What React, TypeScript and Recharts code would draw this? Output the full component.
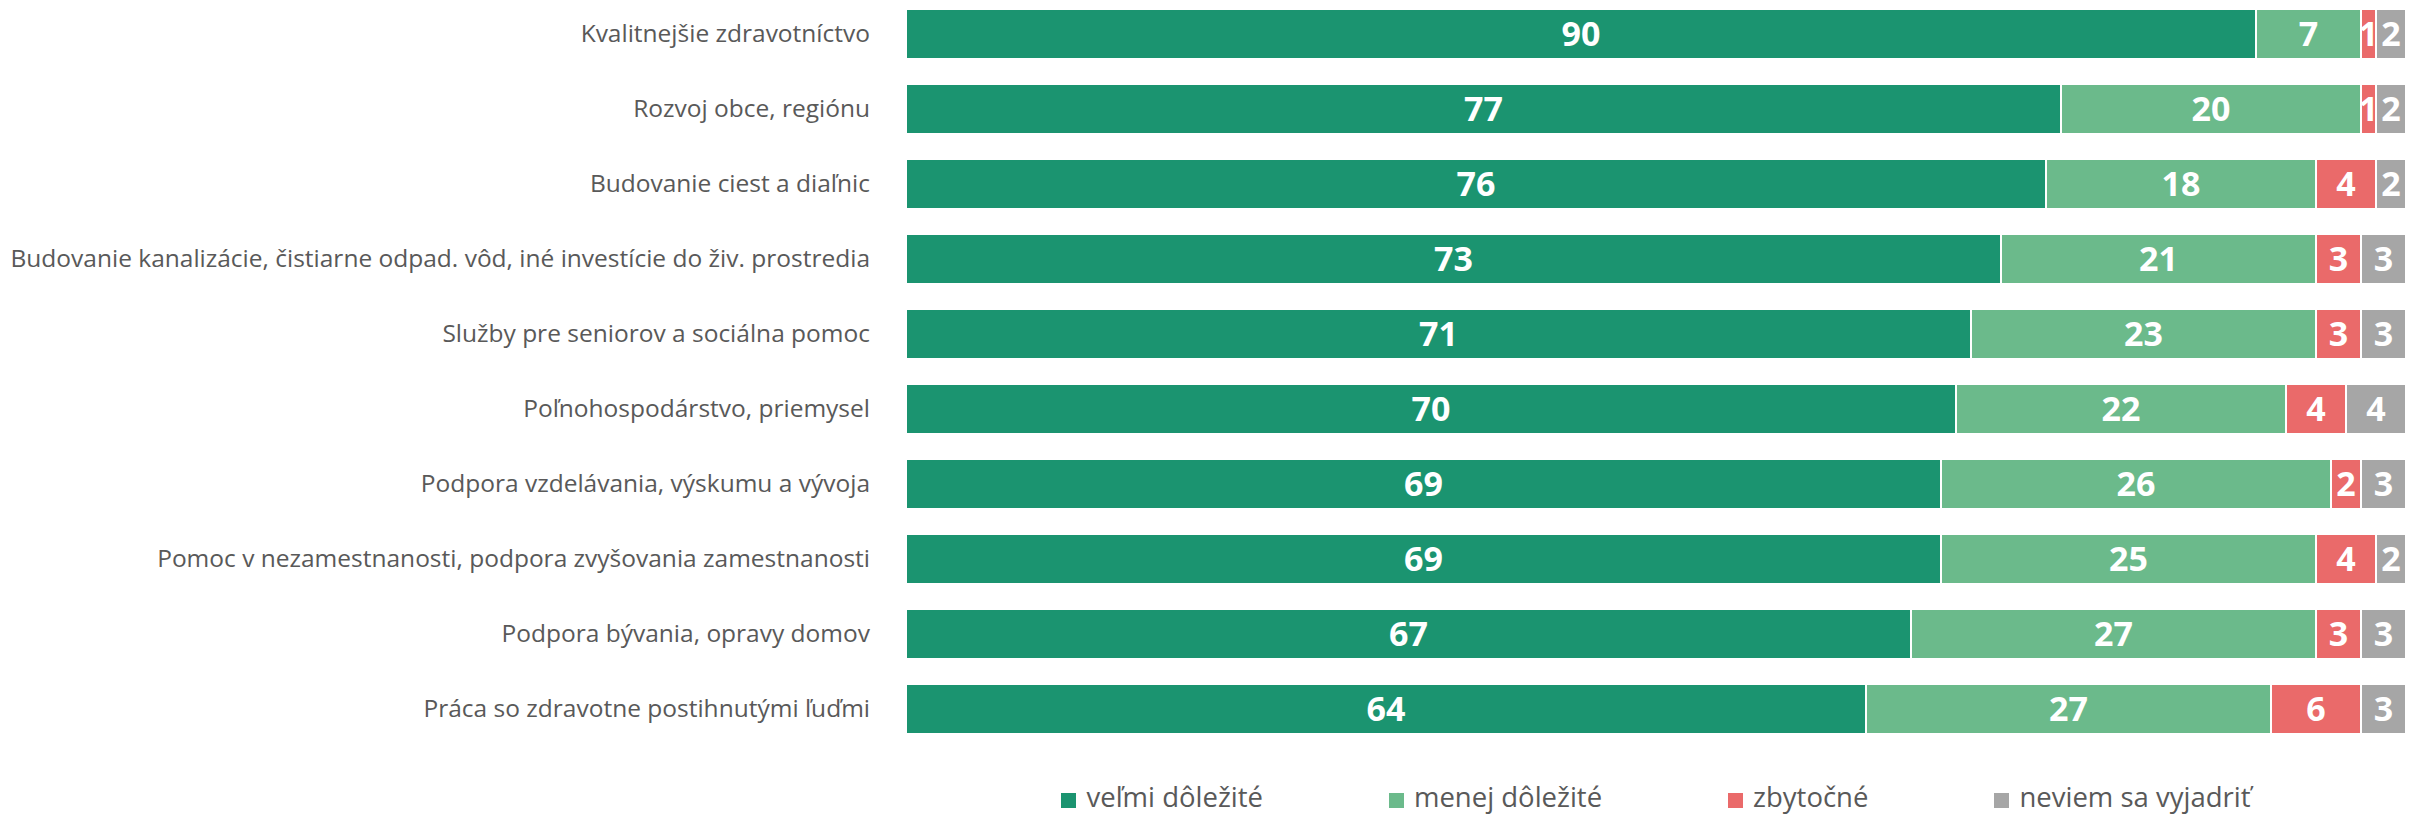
import React from 'react';
import { BarChart, Bar, XAxis, YAxis, LabelList } from 'recharts';

const categories = [
  'Kvalitnejšie zdravotníctvo',
  'Rozvoj obce, regiónu',
  'Budovanie ciest a diaľnic',
  'Budovanie kanalizácie, čistiarne odpad. vôd, iné investície do živ. prostredia',
  'Služby pre seniorov a sociálna pomoc',
  'Poľnohospodárstvo, priemysel',
  'Podpora vzdelávania, výskumu a vývoja',
  'Pomoc v nezamestnanosti, podpora zvyšovania zamestnanosti',
  'Podpora bývania, opravy domov',
  'Práca so zdravotne postihnutými ľuďmi',
];

const velmiDolezite = [90, 77, 76, 73, 71, 70, 69, 69, 67, 64];
const menejDolezite = [7, 20, 18, 21, 23, 22, 26, 25, 27, 27];
const zbytocne = [1, 1, 4, 3, 3, 4, 2, 4, 3, 6];
const neviem = [2, 2, 2, 3, 3, 4, 3, 2, 3, 3];

const seriesNames = ['veľmi dôležité', 'menej dôležité', 'zbytočné', 'neviem sa vyjadriť'];
const seriesKeys = ['velmi', 'menej', 'zbytocne', 'neviem'];
const seriesColors = ['#1B9470', '#6BBA8B', '#EA6A6A', '#A6A6A6'];

const data = categories.map((name, i) => ({
  name,
  velmi: velmiDolezite[i],
  menej: menejDolezite[i],
  zbytocne: zbytocne[i],
  neviem: neviem[i],
}));

const CategoryTick = (props: any) => {
  const { x, y, payload } = props;
  return (
    <text x={x} y={y} dy="0.355em" textAnchor="end" fill="#595959" fontSize={24.5}>
      {payload.value}
    </text>
  );
};

export default function App() {
  return (
    <div
      style={{
        position: 'absolute',
        left: 0,
        top: -4,
        width: 2425,
        height: 819,
        fontFamily: '"Open Sans", sans-serif',
        background: '#fff',
        overflow: 'hidden',
      }}
    >
      <BarChart
        width={2425}
        height={760}
        data={data}
        layout="vertical"
        margin={{ top: 0, right: 19, bottom: 10, left: 0 }}
        barSize={50}
      >
        <XAxis type="number" domain={[0, 100]} hide />
        <YAxis
          type="category"
          dataKey="name"
          width={906}
          axisLine={false}
          tickLine={false}
          tickSize={0}
          tickMargin={36}
          interval={0}
          tick={<CategoryTick />}
        />
        {seriesKeys.map((k, i) => (
          <Bar
            key={k}
            dataKey={k}
            name={seriesNames[i]}
            stackId="a"
            fill={seriesColors[i]}
            stroke="#ffffff"
            strokeWidth={2}
            isAnimationActive={false}
          >
            <LabelList
              dataKey={k}
              position="center"
              fill="#ffffff"
              fontSize={34}
              fontWeight="bold"
            />
          </Bar>
        ))}
      </BarChart>
      <div
        style={{
          position: 'absolute',
          top: 786,
          left: 906,
          width: 1500,
          display: 'flex',
          justifyContent: 'center',
        }}
      >
        <div style={{ display: 'flex', alignItems: 'center', gap: 126 }}>
          {seriesNames.map((n, i) => (
            <div key={n} style={{ display: 'flex', alignItems: 'center', whiteSpace: 'nowrap' }}>
              <span
                style={{
                  display: 'inline-block',
                  width: 15,
                  height: 15,
                  background: seriesColors[i],
                  marginRight: 10,
                  position: 'relative',
                  top: 3,
                }}
              />
              <span style={{ color: '#595959', fontSize: 27.5, lineHeight: '30px' }}>{n}</span>
            </div>
          ))}
        </div>
      </div>
    </div>
  );
}
